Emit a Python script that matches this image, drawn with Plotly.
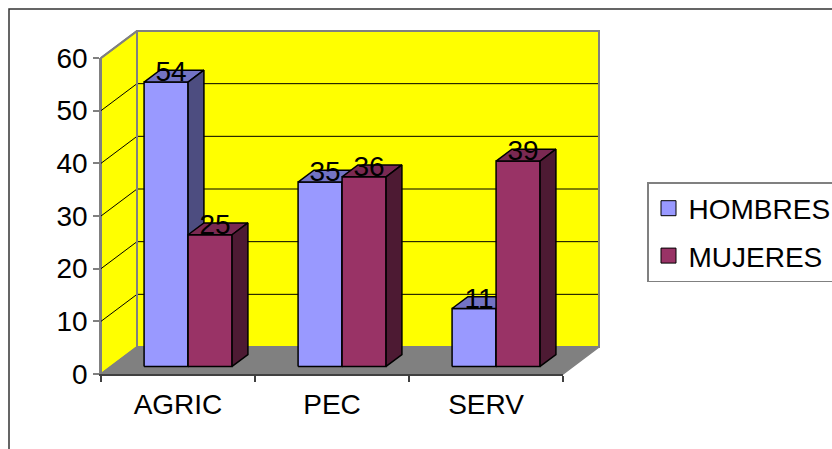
import plotly.graph_objects as go

# ---- data ----
categories = ["AGRIC", "PEC", "SERV"]
series_names = ["HOMBRES", "MUJERES"]
hombres = [54, 35, 11]
mujeres = [25, 36, 39]
y_ticks = [0, 10, 20, 30, 40, 50, 60]

# ---- geometry (canvas units: 1 per category along x, value units along y) ----
W, H = 832, 449
ORIGIN_PX = (101, 374)          # front-plane origin (category 0, value 0)
PX_PER_CAT = 154.0
PX_PER_VAL = 316.0 / 60.0
Y_MAX = 60
WALL_DX = 36 / PX_PER_CAT       # depth offset of the back wall
WALL_DY = 27 / PX_PER_VAL
BAR_W = 1 / 3.5                 # gap width 150 %
D0, D1 = 0.28, 0.72             # bar depth span (fraction of wall depth)
LABEL_DEPTH, LABEL_RAISE = 0.42, 0.8

FONT = "Liberation Sans, Arial, sans-serif"
FS = 28

colors = {
    "HOMBRES": ("#9999FF", "#7373C4", "#4D4D80"),
    "MUJERES": ("#993366", "#7A2952", "#4D1A33"),
}

x_rng = [(0 - ORIGIN_PX[0]) / PX_PER_CAT, (W - ORIGIN_PX[0]) / PX_PER_CAT]
y_rng = [(ORIGIN_PX[1] - H) / PX_PER_VAL, ORIGIN_PX[1] / PX_PER_VAL]


def depth(x, y, d):
    return x + d * WALL_DX, y + d * WALL_DY


def poly(points):
    xs = [p[0] for p in points] + [points[0][0]]
    ys = [p[1] for p in points] + [points[0][1]]
    return xs, ys


def face_trace(polys, fill, line_color, line_w):
    xs, ys = [], []
    for p in polys:
        px, py = poly(p)
        xs += px + [None]
        ys += py + [None]
    return go.Scatter(x=xs, y=ys, mode="lines", fill="toself", fillcolor=fill,
                      line=dict(color=line_color, width=line_w),
                      hoverinfo="skip", showlegend=False, xaxis="x", yaxis="y")


def path_trace(segments, color, width):
    xs, ys = [], []
    for seg in segments:
        xs += [p[0] for p in seg] + [None]
        ys += [p[1] for p in seg] + [None]
    return go.Scatter(x=xs, y=ys, mode="lines", line=dict(color=color, width=width),
                      hoverinfo="skip", showlegend=False, xaxis="x", yaxis="y")


fig = go.Figure()
n = len(categories)
GRAY = "#808080"

# walls and floor
back = [depth(0, 0, 1), depth(n, 0, 1), depth(n, Y_MAX, 1), depth(0, Y_MAX, 1)]
side = [(0, 0), depth(0, 0, 1), depth(0, Y_MAX, 1), (0, Y_MAX)]
floor = [(0, 0), (n, 0), depth(n, 0, 1), depth(0, 0, 1)]
fig.add_trace(face_trace([back], "#FFFF00", GRAY, 2))
fig.add_trace(face_trace([side], "#FFFF00", GRAY, 2))
fig.add_trace(face_trace([floor], GRAY, GRAY, 1.5))

# gridlines on side wall and back wall
grid = []
for v in y_ticks[1:-1]:
    grid.append([(0, v), depth(0, v, 1), depth(n, v, 1)])
fig.add_trace(path_trace(grid, "#000000", 1))

# wall borders stroked above the gridlines
fig.add_trace(path_trace([
    [(0, Y_MAX), depth(0, Y_MAX, 1), depth(n, Y_MAX, 1), depth(n, 0, 1)],
    [depth(0, 0, 1), depth(0, Y_MAX, 1)],
], GRAY, 2))

# 3-D columns, series by series (left to right)
for s, (name, vals) in enumerate(zip(series_names, [hombres, mujeres])):
    front_c, top_c, side_c = colors[name]
    fronts, tops, sides = [], [], []
    lx, ly, lt = [], [], []
    for i, v in enumerate(vals):
        x0 = i + 0.5 - BAR_W + s * BAR_W
        x1 = x0 + BAR_W
        fronts.append([depth(x0, 0, D0), depth(x1, 0, D0), depth(x1, v, D0), depth(x0, v, D0)])
        tops.append([depth(x0, v, D0), depth(x1, v, D0), depth(x1, v, D1), depth(x0, v, D1)])
        sides.append([depth(x1, 0, D0), depth(x1, 0, D1), depth(x1, v, D1), depth(x1, v, D0)])
        px, py = depth((x0 + x1) / 2, v, LABEL_DEPTH)
        lx.append(px)
        ly.append(py + LABEL_RAISE)
        lt.append(str(v))
    fig.add_trace(face_trace(fronts, front_c, "#000000", 1.5))
    fig.add_trace(face_trace(tops, top_c, "#000000", 1.5))
    fig.add_trace(face_trace(sides, side_c, "#000000", 1.5))
    fig.add_trace(go.Scatter(x=lx, y=ly, mode="text", text=lt, textposition="middle center",
                             textfont=dict(family=FONT, size=FS, color="#000000"),
                             hoverinfo="skip", showlegend=False, cliponaxis=False))

# legend entries
for name in series_names:
    fig.add_trace(go.Scatter(x=[None], y=[None], mode="markers", name=name, legendgroup=name,
                             marker=dict(symbol="square", size=15, color=colors[name][0],
                                         line=dict(color="#000000", width=1))))

# front axes (category axis + value axis)
dom_x = [ORIGIN_PX[0] / W, (ORIGIN_PX[0] + n * PX_PER_CAT) / W]
dom_y = [(H - ORIGIN_PX[1]) / H, (H - ORIGIN_PX[1] + Y_MAX * PX_PER_VAL) / H]

fig.update_layout(
    width=W, height=H,
    margin=dict(l=0, r=0, t=0, b=0, pad=0, autoexpand=False),
    paper_bgcolor="#FFFFFF",
    plot_bgcolor="rgba(0,0,0,0)",
    font=dict(family=FONT, size=FS, color="#000000"),
    xaxis=dict(domain=[0, 1], range=x_rng, visible=False, fixedrange=True),
    yaxis=dict(domain=[0, 1], range=y_rng, visible=False, fixedrange=True),
    xaxis2=dict(domain=dom_x, anchor="y2", type="category",
                categoryorder="array", categoryarray=categories,
                tickvals=categories, ticktext=categories,
                range=[-0.5, n - 0.5], tickson="boundaries",
                showline=True, linecolor="#404040", linewidth=1.5,
                ticks="outside", ticklen=6, tickcolor="#404040", tickwidth=1.5,
                showgrid=False, zeroline=False, ticklabelstandoff=5,
                tickfont=dict(family=FONT, size=FS, color="#000000")),
    yaxis2=dict(domain=dom_y, anchor="x2", range=[0, Y_MAX],
                tickvals=y_ticks, showline=True, linecolor=GRAY, linewidth=1.5,
                ticks="outside", ticklen=6, tickcolor=GRAY, tickwidth=1.5,
                showgrid=False, zeroline=False,
                tickfont=dict(family=FONT, size=FS, color="#000000")),
    legend=dict(x=647 / W, y=1 - 182 / H, xanchor="left", yanchor="top",
                bordercolor=GRAY, borderwidth=1.5, bgcolor="#FFFFFF",
                font=dict(family=FONT, size=FS, color="#000000"),
                tracegroupgap=8),
    shapes=[dict(type="rect", xref="paper", yref="paper",
                 x0=9 / W, y0=1 - 9 / H, x1=1.05, y1=-0.05,
                 line=dict(color="#333333", width=1.5), layer="below")],
    showlegend=True,
)
# placeholder trace so the front axes are rendered
fig.add_trace(go.Scatter(x=[categories[0]], y=[None], xaxis="x2", yaxis="y2",
                         mode="markers", showlegend=False, hoverinfo="skip"))

fig.write_html("out.html")
